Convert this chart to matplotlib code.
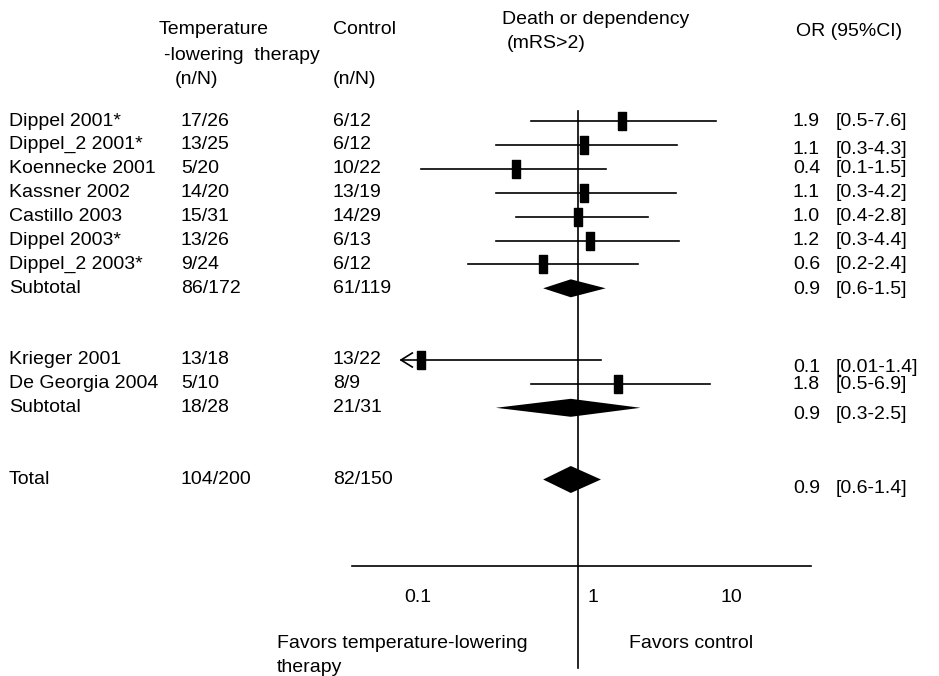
import matplotlib
matplotlib.use('Agg')
import matplotlib.pyplot as plt
import numpy as np
from matplotlib.patches import Polygon

plt.rcParams['font.family'] = ['Liberation Sans', 'DejaVu Sans']

studies = ['Dippel 2001*', 'Dippel_2 2001*', 'Koennecke 2001', 'Kassner 2002',
           'Castillo 2003', 'Dippel 2003*', 'Dippel_2 2003*', 'Subtotal',
           'Krieger 2001', 'De Georgia 2004', 'Subtotal', 'Total']
treated = ['17/26', '13/25', '5/20', '14/20', '15/31', '13/26', '9/24', '86/172',
           '13/18', '5/10', '18/28', '104/200']
control = ['6/12', '6/12', '10/22', '13/19', '14/29', '6/13', '6/12', '61/119',
           '13/22', '8/9', '21/31', '82/150']
odds = [1.9, 1.1, 0.4, 1.1, 1.0, 1.2, 0.6, 0.9, 0.1, 1.8, 0.9, 0.9]
ci_low = [0.5, 0.3, 0.1, 0.3, 0.4, 0.3, 0.2, 0.6, 0.01, 0.5, 0.3, 0.6]
ci_high = [7.6, 4.3, 1.5, 4.2, 2.8, 4.4, 2.4, 1.5, 1.4, 6.9, 2.5, 1.4]
ci_text = ['[0.5-7.6]', '[0.3-4.3]', '[0.1-1.5]', '[0.3-4.2]', '[0.4-2.8]',
           '[0.3-4.4]', '[0.2-2.4]', '[0.6-1.5]', '[0.01-1.4]', '[0.5-6.9]',
           '[0.3-2.5]', '[0.6-1.4]']
pooled = [False] * 7 + [True] + [False, False, True, True]
rows = [0, 1, 2, 3, 4, 5, 6, 7, 10, 11, 12, 15]

W, H = 939, 676
fig = plt.figure(figsize=(W / 100, H / 100), dpi=100)

# log axis for the odds ratios, one decade = 157 px, OR 1 at x = 578 px
ppd = 157.0
x_one = 578.0
ax = fig.add_axes([0, 0, 1, 1])
ax.set_xscale('log')
ax.set_xlim(10 ** (-x_one / ppd), 10 ** ((W - x_one) / ppd))
ax.set_ylim(H, 0)
ax.axis('off')

# overlay in pixel units for the text columns
tx = fig.add_axes([0, 0, 1, 1], facecolor='none')
tx.set_xlim(0, W)
tx.set_ylim(H, 0)
tx.axis('off')

def px_to_or(px):
    return 10 ** ((px - x_one) / ppd)

def row_y(r):
    return 121 + 23.9 * r

fs = 14
lw = 1.2
clip_low = px_to_or(401)

# axis lines
ax.plot([1, 1], [111, 668], color='black', lw=lw)
ax.plot([px_to_or(352), px_to_or(811)], [566, 566], color='black', lw=lw)
for v, lab, dx in [(0.1, '0.1', -3), (1, '1', 15), (10, '10', -4)]:
    tx.text(x_one + ppd * np.log10(v) + dx, 597, lab, fontsize=fs, ha='center', va='center')

box = [(-0.45, -1), (0.45, -1), (0.45, 1), (-0.45, 1), (-0.45, -1)]
or_nudge = [0, 5, 0, 0, 0, 0, 0, 1, 8, 1, 7, 9]

for i in range(len(studies)):
    y = row_y(rows[i])
    tx.text(9, y, studies[i], fontsize=fs, va='center')
    tx.text(181, y, treated[i], fontsize=fs, va='center')
    tx.text(333, y, control[i], fontsize=fs, va='center')
    yo = y + or_nudge[i]
    tx.text(793, yo, '%.1f' % odds[i], fontsize=fs, va='center')
    tx.text(836, yo, ci_text[i], fontsize=fs, va='center')

    if pooled[i]:
        h = 27 if studies[i] == 'Total' else 18
        d = Polygon([(ci_low[i], y), (odds[i], y - h / 2), (ci_high[i], y),
                     (odds[i], y + h / 2)], closed=True, color='black', lw=0)
        ax.add_patch(d)
    else:
        lo = max(ci_low[i], clip_low)
        ax.plot([lo, ci_high[i]], [y, y], color='black', lw=lw)
        ax.plot([odds[i]], [y], marker=box, markersize=13, color='black', lw=0)
        if ci_low[i] < clip_low:
            ax.plot([lo * 1.18, lo, lo * 1.18], [y - 7, y, y + 7], color='black', lw=lw)

# column headers
tx.text(159, 29, 'Temperature', fontsize=fs, va='center')
tx.text(164, 55, '-lowering  therapy', fontsize=fs, va='center')
tx.text(175, 80, '(n/N)', fontsize=fs, va='center')
tx.text(333, 29, 'Control', fontsize=fs, va='center')
tx.text(333, 80, '(n/N)', fontsize=fs, va='center')
tx.text(502, 20, 'Death or dependency', fontsize=fs, va='center')
tx.text(507, 43, '(mRS>2)', fontsize=fs, va='center')
tx.text(796, 32, 'OR (95%CI)', fontsize=fs, va='center')

# favours labels under the axis
tx.text(277, 643, 'Favors temperature-lowering', fontsize=fs, va='center')
tx.text(277, 667, 'therapy', fontsize=fs, va='center')
tx.text(629, 643, 'Favors control', fontsize=fs, va='center')

fig.savefig('out.png', dpi=100, facecolor='white')
